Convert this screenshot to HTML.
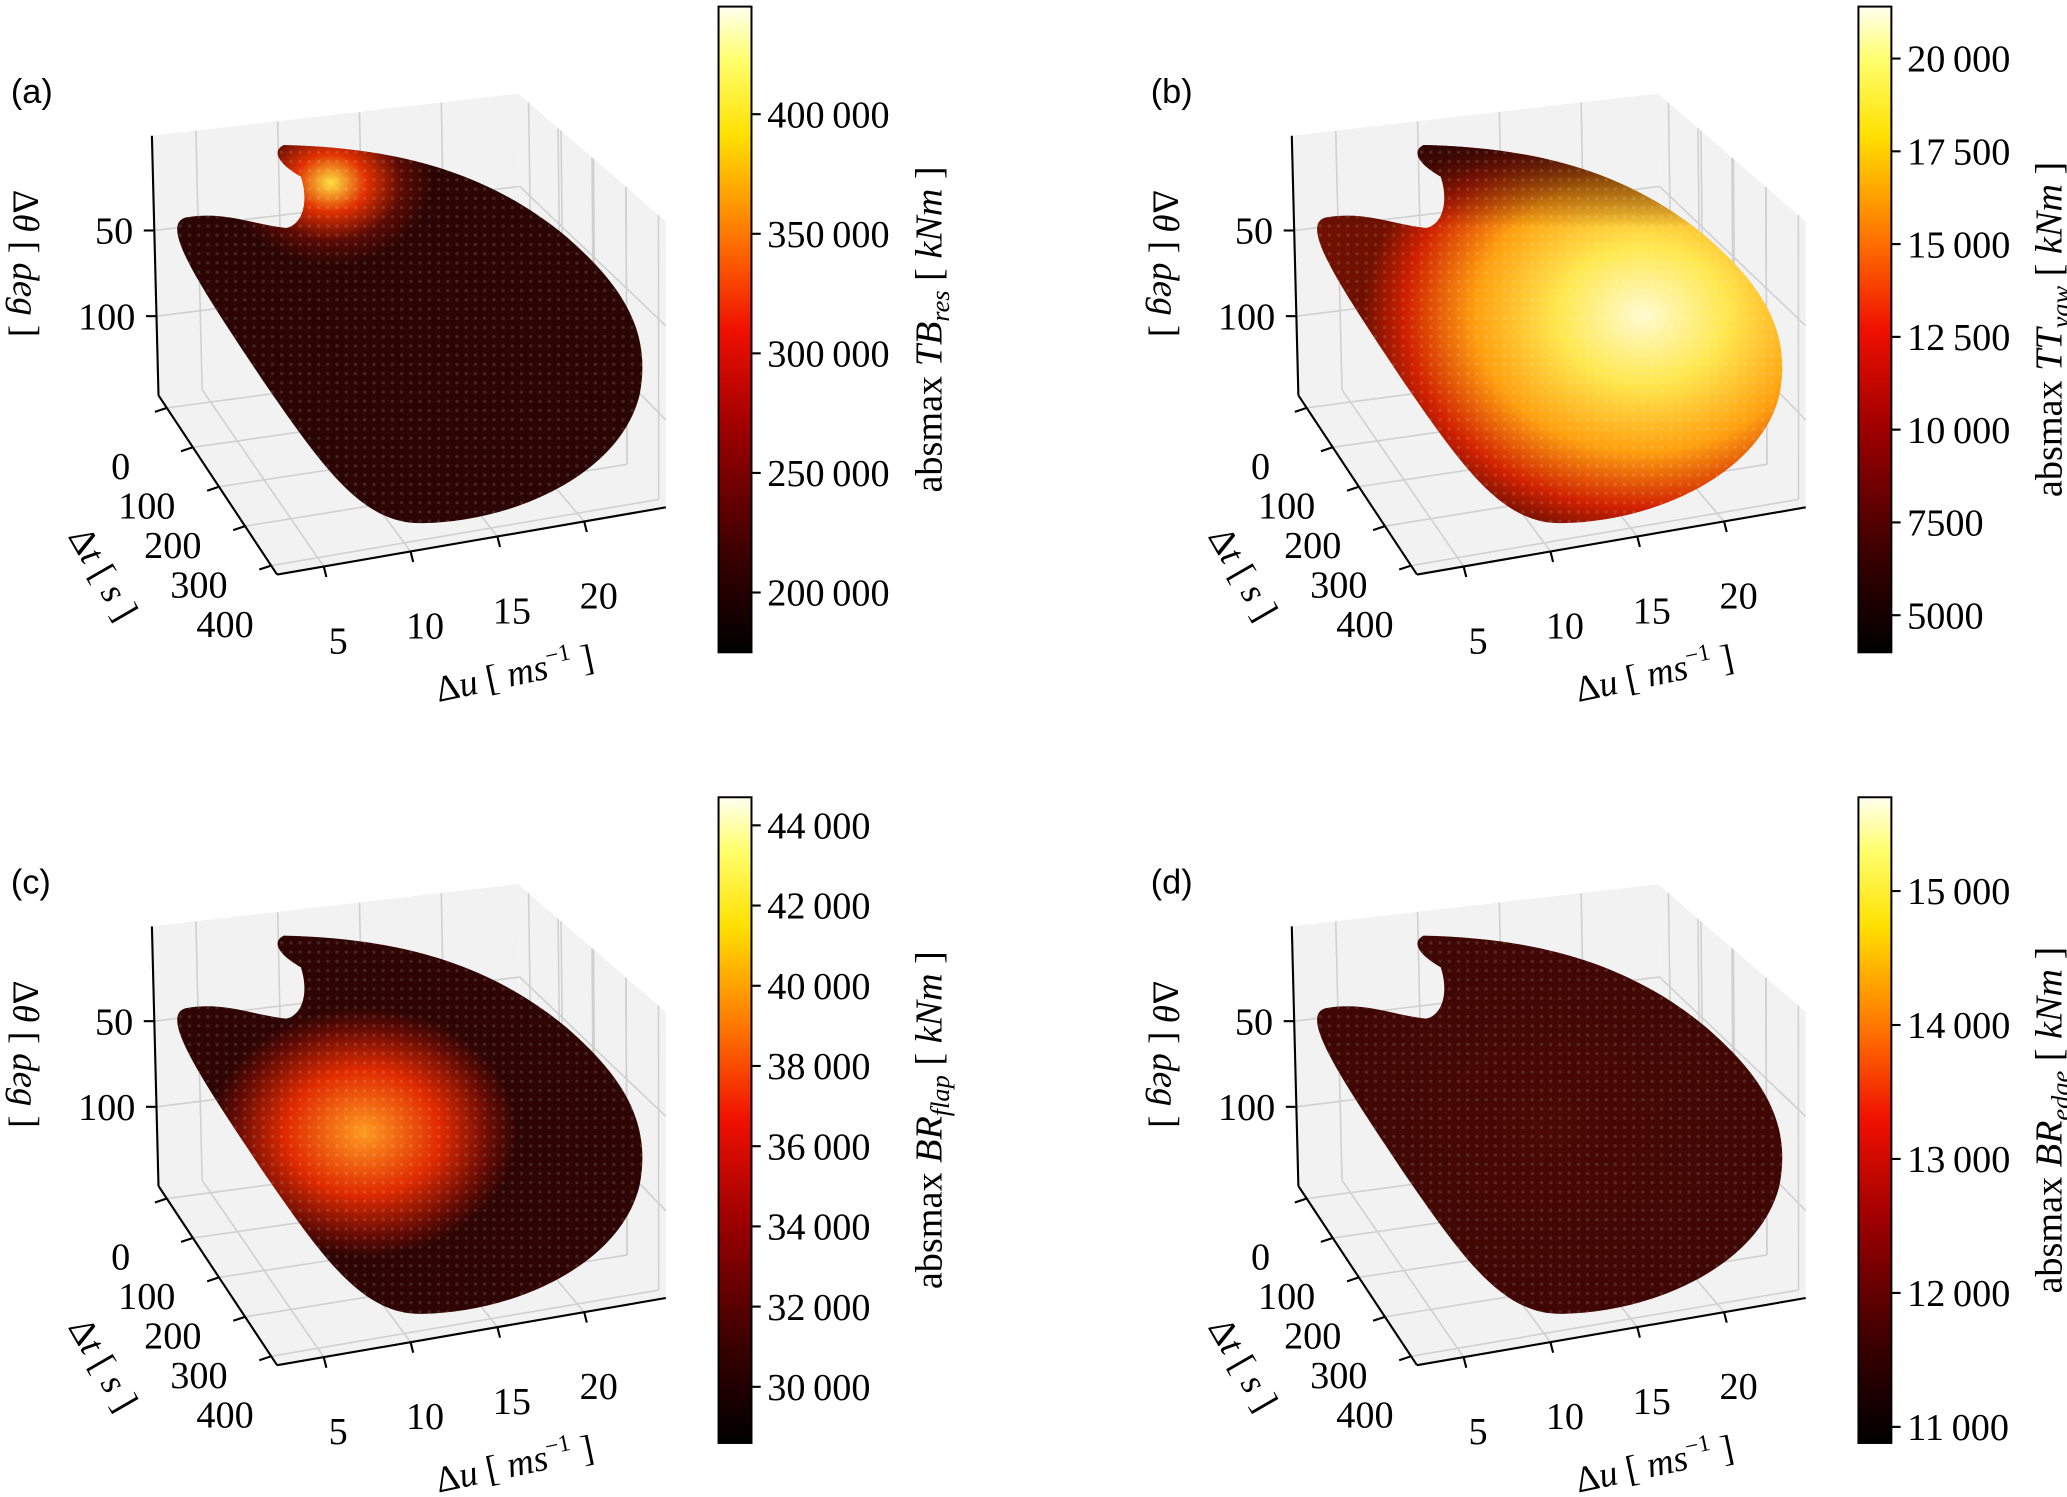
<!DOCTYPE html>
<html><head><meta charset="utf-8"><style>
html,body{margin:0;padding:0;background:#fff}
svg{display:block}
text{font-family:"Liberation Serif","DejaVu Serif",serif;fill:#000}
</style></head><body>
<svg id="fig" width="2067" height="1497" viewBox="0 0 1568 1136" xmlns="http://www.w3.org/2000/svg">
<defs>
<linearGradient id="hot" x1="0" y1="1" x2="0" y2="0">
<stop offset="0" stop-color="#000"/><stop offset="0.15" stop-color="#3a0000"/><stop offset="0.35" stop-color="#a00000"/><stop offset="0.5" stop-color="#f01000"/><stop offset="0.65" stop-color="#ff7a00"/><stop offset="0.8" stop-color="#ffe000"/><stop offset="0.92" stop-color="#ffff70"/><stop offset="1" stop-color="#fffff0"/>
</linearGradient>
<pattern id="dots" width="7" height="7" patternUnits="userSpaceOnUse"><circle cx="3.5" cy="3.5" r="1.3" fill="#fff" opacity="0.12"/></pattern>
<radialGradient id="ga" cx="0.33" cy="0.1" r="0.22"><stop offset="0" stop-color="#ffe040"/><stop offset="0.35" stop-color="#e03000"/><stop offset="0.7" stop-color="#5a0a04"/><stop offset="1" stop-color="#2a0503"/></radialGradient>
<radialGradient id="gb" cx="0.7" cy="0.45" r="0.6"><stop offset="0" stop-color="#fffbd0"/><stop offset="0.3" stop-color="#ffe850"/><stop offset="0.6" stop-color="#ffa010"/><stop offset="0.85" stop-color="#d02000"/><stop offset="1" stop-color="#701000"/></radialGradient>
<linearGradient id="rimb" x1="0" y1="0" x2="0" y2="1"><stop offset="0" stop-color="#2a0503" stop-opacity="0.9"/><stop offset="0.22" stop-color="#2a0503" stop-opacity="0"/></linearGradient>
<radialGradient id="gc" cx="0.4" cy="0.52" r="0.33"><stop offset="0" stop-color="#ff9a20"/><stop offset="0.5" stop-color="#e02a00"/><stop offset="0.85" stop-color="#600a04"/><stop offset="1" stop-color="#2e0503"/></radialGradient>
<radialGradient id="gd" cx="0.5" cy="0.5" r="0.7"><stop offset="0" stop-color="#4a0905"/><stop offset="1" stop-color="#3a0604"/></radialGradient>
</defs>
<g id="root"></g>
</svg>
<script>
const panelLabels = ["(a)","(b)","(c)","(d)"];
const panelOffsetsX = [0,865,0,865];
const panelOffsetsY = [0,0,600,600];
const zTicks = [50,100];
const tTicks = [0,100,200,300,400];
const uTicks = [5,10,15,20];
const cbTicksA = [400000,350000,300000,250000,200000];
const cbRangeA = [175000,445000];
const cbTicksB = [20000,17500,15000,12500,10000,7500,5000];
const cbRangeB = [4000,21400];
const cbTicksC = [44000,42000,40000,38000,36000,34000,32000,30000];
const cbRangeC = [28600,44700];
const cbTicksD = [15000,14000,13000,12000,11000];
const cbRangeD = [10880,15700];
const cbNames = ["TB","TT","BR","BR"];
const cbSubs = ["res","yaw","flap","edge"];
const blobFills = ["url(#ga)","url(#gb)","url(#gc)","url(#gd)"];

const NS="http://www.w3.org/2000/svg";
const root=document.getElementById('root');
function mk(tag,attrs,parent){const e=document.createElementNS(NS,tag);for(const k in attrs)e.setAttribute(k,attrs[k]);(parent||root).appendChild(e);return e;}
function fmt(v){const s=String(v);return s.length>4?s.slice(0,s.length-3)+"\u2009"+s.slice(-3):s;}
function lerp(a,b,t){return [a[0]+(b[0]-a[0])*t,a[1]+(b[1]-a[1])*t];}
function quad(q,u,v){return lerp(lerp(q[0],q[1],u),lerp(q[3],q[2],u),v);}
function zFrac(z){return 0.365+(z-50)/50*0.33;}
function tFrac(t){return 0.07+t/400*0.88;}
function uFrac(u){return 0.12+(u-5)/15*0.67;}

const cbTicksAll=[cbTicksA,cbTicksB,cbTicksC,cbTicksD];
const cbRanges=[cbRangeA,cbRangeB,cbRangeC,cbRangeD];
const blobD='M141,165 C120,170 150,215 200,290 C245,355 275,398 320,397 C390,396 470,360 485,300 C495,250 470,215 430,180 C370,130 300,112 215,110 C205,115 212,125 228,134 C234,152 230,170 217,173 C190,170 170,160 141,165 Z';

for(let p=0;p<4;p++){
  const g=mk('g',{transform:`translate(${panelOffsetsX[p]},${panelOffsetsY[p]})`});
  
  
  const lab=mk('text',{x:8,y:78,'font-size':26,style:'font-family:"Liberation Sans",sans-serif'},g);lab.textContent=panelLabels[p];
  
  
  const L=[[115,103],[393,71],[396,264],[120,300]];
  const R=[[393,71],[505,168],[505,385],[396,264]];
  const F=[[120,300],[396,264],[505,385],[210,436]];
  for(const q of [L,R,F]){
    const pane=mk('polygon',{points:q.map(a=>a.join(',')).join(' '),fill:'#f2f2f2',stroke:'none'},g);
    
    
  }
  const grid=mk('g',{stroke:'#d0d0d0','stroke-width':1.2},g);
  
  
  function ln(a,b,par,attrs){return mk('line',Object.assign({x1:a[0],y1:a[1],x2:b[0],y2:b[1]},attrs||{}),par);}
  uTicks.forEach(u=>{const f=uFrac(u);ln(quad(L,f,0),quad(L,f,1),grid);});
  [0.27,0.5,0.73].forEach(f=>ln(quad(R,f,0),quad(R,f,1),grid));
  zTicks.forEach(z=>{const f=zFrac(z);ln(quad(L,0,f),quad(L,1,f),grid);ln(quad(R,0,f),quad(R,1,f),grid);});
  uTicks.forEach(u=>{const f=uFrac(u);ln(quad(F,f,0),quad(F,f,1),grid);});
  tTicks.forEach(t=>{const f=tFrac(t);ln(quad(F,0,f),quad(F,1,f),grid);ln(quad(R,f,0),quad(R,f,1),grid);});
  const blob=mk('path',{d:blobD,fill:blobFills[p]},g);
  
  
  if(p===1){const rim=mk('path',{d:blobD,fill:'url(#rimb)'},g);
    
    }
  const tex=mk('path',{d:blobD,fill:'url(#dots)'},g);
  
  
  const ax=mk('g',{stroke:'#000','stroke-width':1.6,fill:'none'},g);
  
  
  ln(L[0],L[3],ax);ln(F[0],F[3],ax);ln(F[3],F[2],ax);
  zTicks.forEach(z=>{const a=quad(L,0,zFrac(z));ln(a,[a[0]-8,a[1]],ax);
    const t=mk('text',{x:a[0]-16,y:a[1]+10,'font-size':29,'text-anchor':'end'},g);t.textContent=z;
    
    });
  tTicks.forEach(tv=>{const a=lerp(F[0],F[3],tFrac(tv));ln(a,[a[0]-9,a[1]+3],ax);
    const t=mk('text',{x:a[0]-35,y:a[1]+54,'font-size':29,'text-anchor':'middle'},g);t.textContent=tv;
    
    });
  uTicks.forEach(u=>{const a=lerp(F[3],F[2],uFrac(u));ln(a,[a[0]+2,a[1]+8],ax);
    const t=mk('text',{x:a[0]+11,y:a[1]+66,'font-size':29,'text-anchor':'middle'},g);t.textContent=u;
    
    });
  const zl=mk('text',{transform:'translate(10,200) rotate(90)','font-size':28,'text-anchor':'middle'},g);
  zl.innerHTML='Δ<tspan font-style="italic">θ</tspan> [ <tspan font-style="italic">deg</tspan> ]';
  
  
  const tl=mk('text',{transform:'translate(70,440) rotate(60)','font-size':28,'text-anchor':'middle'},g);
  tl.innerHTML='Δ<tspan font-style="italic">t</tspan> [ <tspan font-style="italic">s</tspan> ]';
  
  
  const ul=mk('text',{transform:'translate(392,520) rotate(-12)','font-size':28,'text-anchor':'middle'},g);
  ul.innerHTML='Δ<tspan font-style="italic">u</tspan> [ <tspan font-style="italic">ms</tspan><tspan dy="-11" font-size="18">−1</tspan><tspan dy="11"> ]</tspan>';
  
  
  const cbX=545, cbY=5, cbW=25, cbH=490;
  const cb=mk('rect',{x:cbX,y:cbY,width:cbW,height:cbH,fill:'url(#hot)',stroke:'#000','stroke-width':1.5},g);
  
  
  const rng=cbRanges[p];
  function cbY_(v){return cbY+cbH-(v-rng[0])/(rng[1]-rng[0])*cbH;}
  cbTicksAll[p].forEach(v=>{const y=cbY_(v);ln([cbX+cbW,y],[cbX+cbW+7,y],ax);
    const t=mk('text',{x:cbX+cbW+12,y:y+10,'font-size':29},g);t.textContent=fmt(v);
    
    });
  const cl=mk('text',{transform:`translate(${p%2?699:714},250) rotate(-90)`,'font-size':29,'text-anchor':'middle'},g);
  cl.innerHTML=`absmax <tspan font-style="italic">${cbNames[p]}</tspan><tspan font-style="italic" font-size="20" dy="6">${cbSubs[p]}</tspan><tspan dy="-6"> [ </tspan><tspan font-style="italic">kNm</tspan> ]`;
  
  
}
</script>
</body></html>
